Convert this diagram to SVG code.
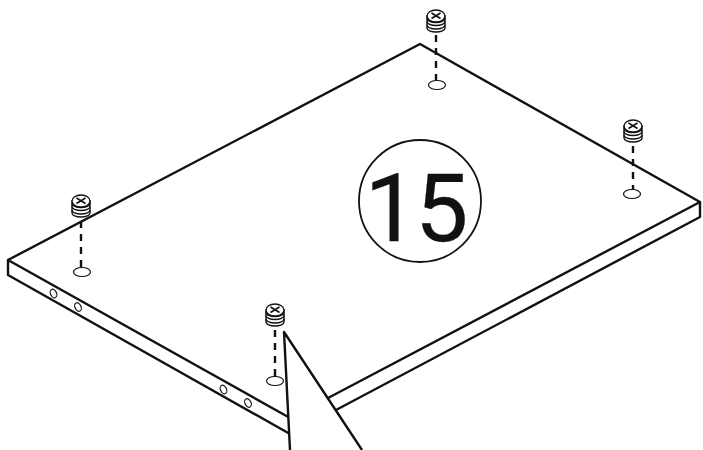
<svg xmlns="http://www.w3.org/2000/svg" width="703" height="450" viewBox="0 0 703 450">
<style>
.e{fill:none;stroke:#111;stroke-width:2.4;stroke-linejoin:round;stroke-linecap:round}
.d{fill:none;stroke:#111;stroke-width:2.4;stroke-dasharray:7 6}
.h{fill:#fff;stroke:#111;stroke-width:1.2}
.s{fill:#fff;stroke:#111;stroke-width:1.4}
.b{fill:none;stroke:#111;stroke-width:1.3}
</style>
<defs>
<g id="screw">
<path class="s" d="M-9 -4V8A9 4 0 0 0 9 8V-4Z"/>
<path class="b" d="M-9 1.500A9 4 0 0 0 9 1.500"/>
<path class="b" d="M-9 5A9 4 0 0 0 9 5"/>
<path class="b" d="M-9 -1.500A9 4 0 0 0 9 -1.500"/>
<ellipse class="s" cx="0" cy="-4" rx="9" ry="6"/>
<path d="M-4.500 -7L4.500 -1.500M4.500 -7L-4.500 -1.500" fill="none" stroke="#111" stroke-width="1.600"/>
</g>
</defs>
<rect width="703" height="450" fill="#fff"/>
<g id="connectors">
<path class="d" d="M436 35V80"/>
<path class="d" d="M633 146V189"/>
<path class="d" d="M81 221V267"/>
<path class="d" d="M275 330V377"/>
</g>
<g id="panel">
<path class="e" d="M8 260L420 44L700 202V217L336 410M700 202L328 398M8 260V275L290 434M8 260L290 418"/>
<g>
<ellipse class="h" cx="437" cy="85" rx="8.500" ry="4.500"/>
<ellipse class="h" cx="632" cy="194" rx="8.500" ry="4.500"/>
<ellipse class="h" cx="82" cy="272" rx="8.500" ry="4.500"/>
<ellipse class="h" cx="275" cy="381" rx="8.500" ry="4.500"/>
<ellipse class="h" cx="53.500" cy="293.500" rx="3" ry="4.500" transform="rotate(-25 53.500 293.500)"/>
<ellipse class="h" cx="78" cy="307" rx="3" ry="4.500" transform="rotate(-25 78 307)"/>
<ellipse class="h" cx="223.500" cy="389.500" rx="3" ry="4.500" transform="rotate(-25 223.500 389.500)"/>
<ellipse class="h" cx="248" cy="403" rx="3" ry="4.500" transform="rotate(-25 248 403)"/>
</g>
</g>
<g id="screw-top"><use href="#screw" x="436" y="20"/></g>
<g id="screw-right"><use href="#screw" x="633" y="130"/></g>
<g id="screw-left"><use href="#screw" x="81" y="205"/></g>
<g id="screw-front"><use href="#screw" x="275" y="314"/></g>
<g id="callout">
<path d="M284 332L290 450H362Z" fill="#fff"/>
<path d="M290 450L284 332L362 450" fill="none" stroke="#111" stroke-width="2.400" stroke-linejoin="round"/>
</g>
<g id="step">
<circle cx="420" cy="201" r="61" fill="#fff" stroke="#111" stroke-width="1.800"/>
<text x="415" y="241" text-anchor="middle" font-family="Roboto, Arial, sans-serif" font-size="95" letter-spacing="-3" stroke="#111" stroke-width="0.300" fill="#111">15</text>
</g>
</svg>
